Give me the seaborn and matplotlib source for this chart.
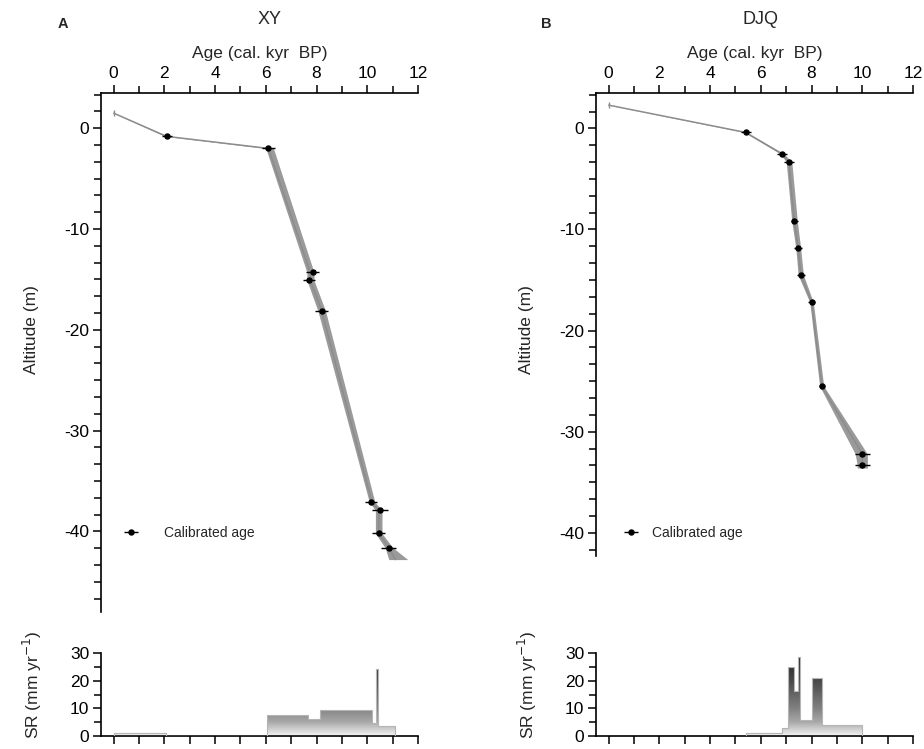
import numpy as np
import pandas as pd
import matplotlib
matplotlib.use('Agg')
import matplotlib.pyplot as plt
from matplotlib.colors import LinearSegmentedColormap
from matplotlib.ticker import MultipleLocator, AutoMinorLocator
import seaborn as sns

# ---- age-depth model: XY core ----
xy_band_alt = [1.5, -0.8, -2.0, -14.3, -15.1, -18.1, -37.1, -37.9, -40.2, -41.6, -42.8]
xy_band_lo = [0.0, 2.02, 6.0, 7.62, 7.62, 8.05, 10.08, 10.32, 10.32, 10.7, 10.85]
xy_band_hi = [0.03, 2.14, 6.3, 7.9, 7.9, 8.35, 10.3, 10.58, 10.58, 11.0, 11.6]
xy_mid_age = [0.0, 2.08, 6.1, 7.75, 7.75, 8.2, 10.18, 10.45, 10.45, 10.85, 11.1]

xy_cal_age = [2.1, 6.1, 7.85, 7.7, 8.2, 10.15, 10.5, 10.45, 10.85]
xy_cal_alt = [-0.8, -2.0, -14.3, -15.1, -18.1, -37.1, -37.9, -40.2, -41.6]
xy_cal_err = [0.2, 0.25, 0.25, 0.25, 0.25, 0.25, 0.3, 0.25, 0.3]
xy_surface = (0.0, 1.5)

# ---- age-depth model: DJQ core ----
djq_band_alt = [2.3, -0.4, -2.5, -3.3, -9.2, -11.85, -14.5, -17.2, -25.5, -32.2, -33.3, -33.6]
djq_band_lo = [0.0, 5.35, 6.76, 7.0, 7.22, 7.38, 7.47, 7.93, 8.32, 9.72, 9.8, 9.8]
djq_band_hi = [0.03, 5.45, 6.9, 7.22, 7.44, 7.57, 7.68, 8.07, 8.48, 10.2, 10.2, 10.2]
djq_mid_age = [0.0, 5.4, 6.82, 7.1, 7.32, 7.47, 7.58, 8.0, 8.4, 10.0, 10.0, 10.0]

djq_cal_age = [5.4, 6.82, 7.1, 7.32, 7.47, 7.58, 8.0, 8.4, 10.0, 10.0]
djq_cal_alt = [-0.4, -2.5, -3.3, -9.2, -11.85, -14.5, -17.2, -25.5, -32.2, -33.3]
djq_cal_err = [0.2, 0.2, 0.2, 0.15, 0.15, 0.15, 0.15, 0.12, 0.3, 0.3]
djq_surface = (0.0, 2.3)

# ---- sedimentation rate (mm/yr), step bins ----
xy_sr_edges = [0.0, 2.08, 6.03, 7.68, 8.14, 10.18, 10.34, 10.42, 11.1]
xy_sr_vals = [1.0, 0.0, 7.6, 6.0, 9.4, 4.8, 24.2, 3.6]
djq_sr_edges = [5.4, 6.82, 7.08, 7.3, 7.46, 7.55, 8.0, 8.4, 10.0]
djq_sr_vals = [1.0, 2.9, 24.8, 16.4, 28.7, 5.8, 21.1, 4.0]

sns.set_theme(style="ticks")
plt.rcParams['font.family'] = ['Liberation Sans', 'DejaVu Sans']
plt.rcParams['axes.unicode_minus'] = False

fig = plt.figure(figsize=(9.24, 7.49), dpi=100)

band_col = '#9a9a9a'
sr_cmap = LinearSegmentedColormap.from_list(
    'sr', [(0.0, '#f4f4f4'), (0.17, '#a8a8a8'), (0.33, '#828282'),
           (0.66, '#4a4a4a'), (1.0, '#1e1e1e')])


def style_axis(ax):
    for s in ax.spines.values():
        s.set_color('black')
        s.set_linewidth(1.2)
    ax.tick_params(which='both', colors='black', width=1.1, labelsize=12.5, pad=2.5)
    ax.tick_params(which='major', length=6)
    ax.tick_params(which='minor', length=5)


def age_panel(ax, alt, lo, hi, mid, cal_age, cal_alt, cal_err, surface, ybottom):
    ax.fill_betweenx(alt, lo, hi, color=band_col, lw=0, zorder=1)
    d = pd.DataFrame({'age': mid, 'alt': alt})
    sns.lineplot(data=d, x='age', y='alt', sort=False, estimator=None,
                 color='#8c8c8c', lw=1.1, ax=ax, zorder=2)
    ax.plot(*surface, marker='|', ms=5, color='#8c8c8c', mew=1)
    eb = ax.errorbar(cal_age, cal_alt, xerr=cal_err, fmt='o', ms=3.6,
                     color='black', ecolor='black', elinewidth=1.0,
                     capsize=0, zorder=4, label='Calibrated age')
    ax.set_xlim(-0.5, 12)
    ax.set_ylim(ybottom, 3.5)
    sns.despine(ax=ax, top=False, right=True, bottom=True)
    ax.xaxis.tick_top()
    ax.xaxis.set_label_position('top')
    ax.xaxis.set_minor_locator(MultipleLocator(1))
    ax.set_xticks(range(0, 13, 2))
    ax.yaxis.set_major_locator(MultipleLocator(10))
    ax.yaxis.set_minor_locator(AutoMinorLocator(6))
    ax.set_xlabel('Age (cal. kyr  BP)', fontsize=12.5, labelpad=6)
    ax.set_ylabel('Altitude (m)', fontsize=12.5)
    style_axis(ax)
    return eb


def sr_panel(ax, edges, vals):
    xs = np.array(edges)
    ys = np.append(vals, vals[-1])
    poly = ax.fill_between(xs, 0, ys, step='post', facecolor='none',
                           edgecolor='#b5b5b5', lw=0.8, zorder=3)
    grad = np.linspace(0, 1, 256).reshape(-1, 1)
    im = ax.imshow(grad, cmap=sr_cmap, origin='lower', aspect='auto',
                   extent=[-0.5, 12, 0, 30], zorder=2)
    im.set_clip_path(poly.get_paths()[0], transform=ax.transData)
    ax.set_xlim(-0.5, 12)
    ax.set_ylim(0, 30)
    sns.despine(ax=ax)
    ax.xaxis.set_major_locator(MultipleLocator(1))
    ax.set_xticklabels([])
    ax.yaxis.set_major_locator(MultipleLocator(10))
    ax.yaxis.set_minor_locator(MultipleLocator(5))
    ax.set_ylabel('SR (mm yr$^{-1}$)', fontsize=12.5)
    style_axis(ax)


w = 317 / 924
ax1 = fig.add_axes([101 / 924, 1 - 612 / 749, w, (612 - 93) / 749])
ax2 = fig.add_axes([596 / 924, 1 - 556 / 749, w, (556 - 93) / 749])
ax3 = fig.add_axes([101 / 924, 1 - 736 / 749, w, (736 - 653) / 749])
ax4 = fig.add_axes([596 / 924, 1 - 736 / 749, w, (736 - 653) / 749])

eb1 = age_panel(ax1, xy_band_alt, xy_band_lo, xy_band_hi, xy_mid_age,
                xy_cal_age, xy_cal_alt, xy_cal_err, xy_surface, -48)
eb2 = age_panel(ax2, djq_band_alt, djq_band_lo, djq_band_hi, djq_mid_age,
                djq_cal_age, djq_cal_alt, djq_cal_err, djq_surface, -42.3)
sr_panel(ax3, xy_sr_edges, xy_sr_vals)
sr_panel(ax4, djq_sr_edges, djq_sr_vals)

ax1.yaxis.set_label_coords(-0.195, 1 - (330 - 93) / (612 - 93))
ax2.yaxis.set_label_coords(-0.195, 1 - (330 - 93) / (556 - 93))
ax3.yaxis.set_label_coords(-0.18, 1 - (685 - 653) / 83)
ax4.yaxis.set_label_coords(-0.18, 1 - (685 - 653) / 83)

ax1.legend(handles=[eb1], loc='center left', bbox_to_anchor=(0.02, 1 - (533 - 93) / (612 - 93)),
           frameon=False, fontsize=10, handlelength=1.6, handletextpad=1.6)
ax2.legend(handles=[eb2], loc='center left', bbox_to_anchor=(0.04, 1 - (533 - 93) / (556 - 93)),
           frameon=False, fontsize=10, handlelength=1.4, handletextpad=0.8)

fig.text(270 / 924, 1 - 19 / 749, 'XY', ha='center', va='center', fontsize=13)
fig.text(760 / 924, 1 - 19 / 749, 'DJQ', ha='center', va='center', fontsize=13)
fig.text(63 / 924, 1 - 24 / 749, 'A', ha='center', va='center', fontsize=10.5, fontweight='bold')
fig.text(546 / 924, 1 - 24 / 749, 'B', ha='center', va='center', fontsize=10.5, fontweight='bold')

fig.savefig('out.png', dpi=100)
